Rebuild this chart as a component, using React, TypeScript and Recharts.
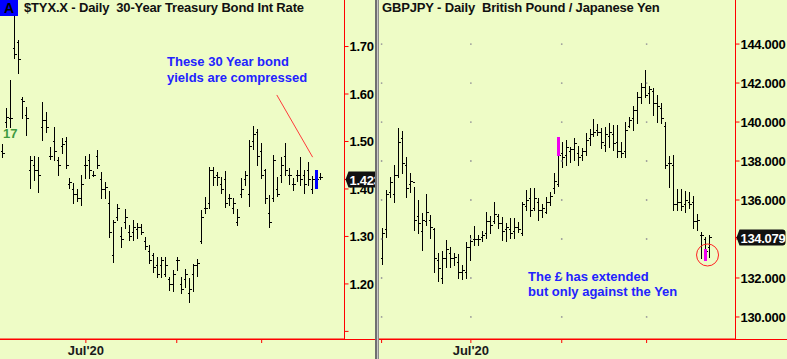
import React from "react";
import { Bar, ComposedChart, ReferenceDot, ReferenceLine, XAxis, YAxis } from "recharts";

const BG = "#EEFCC6";
const AXIS_RED = "#FF0000";
const FONT = '"Liberation Sans", Arial, sans-serif';

// $TYX.X daily bars
const tyxHigh = [
  1.495, 1.571, 1.629, 1.766, 1.714, 1.594, 1.573, 1.469, 1.469, 1.467,
  1.583, 1.562, 1.488, 1.531, 1.467, 1.507, 1.509, 1.423, 1.413, 1.4,
  1.429, 1.469, 1.474, 1.438, 1.482, 1.436, 1.415, 1.396, 1.335, 1.368,
  1.32, 1.358, 1.324, 1.335, 1.328, 1.326, 1.299, 1.282, 1.265, 1.257,
  1.257, 1.257, 1.215, 1.229, 1.257, 1.215, 1.232, 1.213, 1.242, 1.253,
  1.356, 1.383, 1.446, 1.446, 1.436, 1.425, 1.438, 1.389, 1.381, 1.358,
  1.423, 1.438, 1.503, 1.533, 1.526, 1.497, 1.442, 1.387, 1.472, 1.425,
  1.467, 1.497, 1.444, 1.423, 1.44, 1.467, 1.44, 1.457, 1.427, 1.44,
  1.434,
];
const tyxLow = [
  1.467, 1.531, 1.531, 1.676, 1.644, 1.549, 1.514, 1.402, 1.419, 1.394,
  1.503, 1.52, 1.463, 1.461, 1.429, 1.476, 1.444, 1.402, 1.371, 1.375,
  1.366, 1.423, 1.423, 1.427, 1.444, 1.381, 1.381, 1.299, 1.246, 1.335,
  1.278, 1.318, 1.293, 1.293, 1.297, 1.305, 1.274, 1.244, 1.225, 1.215,
  1.215, 1.217, 1.187, 1.185, 1.229, 1.181, 1.194, 1.162, 1.185, 1.217,
  1.286, 1.349, 1.36, 1.408, 1.408, 1.392, 1.362, 1.366, 1.349, 1.324,
  1.383, 1.408, 1.364, 1.484, 1.451, 1.423, 1.371, 1.32, 1.375, 1.385,
  1.415, 1.429, 1.411, 1.398, 1.417, 1.408, 1.392, 1.408, 1.392, 1.402,
  1.421,
];
const tyxOpen = [
  1.48, 1.54, 1.55, 1.697, 1.71, 1.59, 1.555, 1.44, 1.45, 1.44,
  1.53, 1.545, 1.47, 1.5, 1.46, 1.49, 1.5, 1.41, 1.4, 1.39,
  1.38, 1.45, 1.46, 1.43, 1.47, 1.42, 1.4, 1.37, 1.26, 1.34,
  1.3, 1.33, 1.31, 1.31, 1.315, 1.32, 1.29, 1.27, 1.26, 1.24,
  1.24, 1.22, 1.21, 1.2, 1.25, 1.2, 1.21, 1.18, 1.22, 1.24,
  1.29, 1.36, 1.37, 1.44, 1.43, 1.41, 1.42, 1.38, 1.36, 1.33,
  1.39, 1.42, 1.39, 1.5, 1.52, 1.48, 1.44, 1.35, 1.38, 1.4,
  1.43, 1.47, 1.43, 1.41, 1.43, 1.43, 1.43, 1.44, 1.4, 1.42,
  1.425,
];
const tyxClose = [
  1.475, 1.551, 1.55, 1.685, 1.674, 1.585, 1.55, 1.46, 1.44, 1.43,
  1.545, 1.53, 1.47, 1.48, 1.45, 1.495, 1.45, 1.415, 1.39, 1.38,
  1.41, 1.45, 1.44, 1.43, 1.45, 1.4, 1.405, 1.31, 1.33, 1.36,
  1.295, 1.34, 1.3, 1.32, 1.32, 1.31, 1.28, 1.25, 1.235, 1.22,
  1.25, 1.24, 1.2, 1.22, 1.25, 1.19, 1.22, 1.19, 1.24, 1.245,
  1.34, 1.36, 1.44, 1.425, 1.425, 1.4, 1.37, 1.38, 1.37, 1.34,
  1.4, 1.43, 1.49, 1.515, 1.47, 1.43, 1.38, 1.33, 1.46, 1.39,
  1.45, 1.44, 1.43, 1.41, 1.43, 1.42, 1.41, 1.42, 1.42, 1.42,
  1.425,
];
const tyxBlueBar = 79;
const tyxLast = "1.423";
const tyxLastValue = 1.42;
const tyxTicks = [1.1, 1.2, 1.3, 1.4, 1.5, 1.6, 1.7];
const tyxTickLabels = ["", "1.20", "1.30", "1.40", "1.50", "1.60", "1.70"];
const tyxMonthTicks = [21.06, 43.88, 65.2];
const tyxMonthLabels = ["Jul'20", "", ""];
const tyxArrow = [
  { x: 69, y: 1.598 },
  { x: 78, y: 1.467 },
];

// GBPJPY daily bars
const gbpHigh = [
  134.56, 136.51, 137.18, 137.79, 139.69, 139.54, 138.21, 137.38, 136.67, 136.0,
  135.33, 136.31, 135.23, 134.56, 133.28, 133.38, 133.95, 133.59, 133.28, 133.23,
  132.67, 133.85, 134.21, 134.67, 134.21, 134.41, 135.38, 135.18, 135.9, 135.28,
  135.13, 134.82, 135.08, 135.08, 134.87, 135.9, 136.51, 136.62, 136.62, 136.1,
  135.79, 136.15, 136.41, 137.38, 139.23, 138.97, 139.08, 138.72, 139.18, 138.77,
  138.67, 139.44, 139.64, 140.15, 139.9, 139.69, 139.74, 139.95, 139.85, 139.85,
  138.97, 140.0, 140.26, 140.82, 141.54, 142.0, 142.67, 141.85, 141.74, 141.38,
  140.97, 140.0, 138.26, 138.31, 136.56, 136.56, 136.46, 136.41, 136.21, 135.28,
  134.36, 134.1, 134.21,
];
const gbpLow = [
  132.72, 134.1, 136.15, 135.9, 137.18, 137.38, 136.15, 136.41, 134.46, 134.31,
  133.44, 134.72, 134.05, 132.31, 131.85, 131.74, 132.56, 132.56, 132.67, 132.0,
  131.95, 132.0, 132.92, 133.69, 133.69, 133.9, 134.05, 134.31, 134.82, 134.56,
  133.95, 133.9, 134.05, 134.05, 134.36, 134.21, 135.49, 135.18, 135.49, 134.97,
  135.13, 135.33, 135.74, 136.36, 136.72, 137.69, 137.79, 137.95, 138.05, 137.79,
  138.05, 138.31, 138.82, 139.28, 139.33, 138.67, 138.51, 138.72, 138.56, 138.21,
  138.21, 138.21, 139.74, 139.59, 139.95, 140.97, 141.28, 140.97, 140.36, 140.0,
  139.95, 137.64, 136.67, 135.49, 135.49, 135.49, 135.38, 135.59, 134.56, 134.46,
  133.03, 132.92, 133.08,
];
const gbpOpen = [
  133.0, 134.5, 136.4, 136.3, 137.3, 139.2, 137.8, 136.8, 136.9, 135.2,
  134.4, 134.9, 135.0, 134.5, 132.9, 132.0, 133.0, 133.3, 133.0, 132.8,
  132.3, 132.3, 133.6, 134.0, 134.0, 134.1, 134.3, 134.9, 134.9, 135.2,
  134.8, 134.5, 134.5, 134.4, 134.6, 134.3, 135.7, 136.1, 135.6, 135.9,
  135.5, 135.4, 135.9, 136.6, 136.8, 138.4, 138.3, 138.5, 138.6, 138.4,
  138.3, 138.5, 139.2, 139.4, 139.6, 139.5, 138.8, 139.3, 139.4, 139.0,
  138.5, 138.5, 139.8, 140.2, 140.6, 141.3, 141.8, 141.5, 141.6, 141.0,
  140.7, 139.8, 137.9, 137.8, 135.8, 135.9, 135.8, 135.9, 135.9, 134.9,
  134.2, 134.0, 133.6,
];
const gbpClose = [
  134.3, 136.3, 136.9, 137.3, 139.0, 137.9, 136.6, 137.0, 135.0, 134.8,
  135.0, 135.4, 134.6, 133.0, 132.5, 133.0, 133.5, 133.0, 133.1, 132.3,
  132.4, 133.6, 133.9, 134.0, 134.0, 134.2, 134.9, 134.7, 135.3, 134.8,
  134.4, 134.6, 134.3, 134.6, 134.5, 135.8, 136.0, 135.5, 136.1, 135.5,
  135.6, 135.9, 136.2, 137.0, 138.3, 138.2, 138.7, 138.6, 138.9, 138.2,
  138.5, 139.1, 139.4, 139.5, 139.5, 139.0, 139.4, 139.5, 138.9, 138.5,
  138.4, 139.6, 140.1, 140.6, 141.3, 141.8, 141.4, 141.7, 141.0, 140.8,
  140.2, 137.8, 137.9, 135.8, 135.9, 135.7, 136.0, 135.8, 134.9, 135.0,
  134.2, 133.4, 134.08,
];
const gbpMagentaIdx = [44, 81];
const gbpMagentaTop = [139.23, 133.49];
const gbpMagentaBottom = [138.31, 132.92];
const gbpLast = "134.079";
const gbpLastValue = 134.079;
const gbpTicks = [130, 132, 134, 136, 138, 140, 142, 144];
const gbpTickLabels = ["130.000", "132.000", "134.000", "136.000", "138.000", "140.000", "142.000", "144.000"];
const gbpMonthTicks = [-0.1, 22.25, 45, 66.25];
const gbpMonthLabels = ["", "Jul'20", "", ""];
const gbpCircle = { x: 81.5, y: 133.18 };

type Row = { i: number; range: [number, number]; open: number; close: number; mark?: [number, number]; markColor?: string };

function buildRows(high: number[], low: number[], open: number[], close: number[]): Row[] {
  return high.map((h, i) => ({ i, range: [low[i], h], open: open[i], close: close[i] }));
}

const tyxRows = buildRows(tyxHigh, tyxLow, tyxOpen, tyxClose);
tyxRows[tyxBlueBar].mark = [tyxLow[tyxBlueBar], tyxHigh[tyxBlueBar]];
tyxRows[tyxBlueBar].markColor = "#0000FF";

const gbpRows = buildRows(gbpHigh, gbpLow, gbpOpen, gbpClose);
gbpMagentaIdx.forEach((idx, k) => {
  gbpRows[idx].mark = [gbpMagentaBottom[k], gbpMagentaTop[k]];
  gbpRows[idx].markColor = "#F000F0";
});

function OhlcBar(props: any) {
  const { x, y, width, height, payload } = props;
  if (x == null || y == null || height == null) return null;
  const top = Math.min(y, y + height);
  const h = Math.abs(height);
  const [lo, hi] = payload.range;
  const toY = (v: number) => Math.round(top + ((hi - v) / (hi - lo || 1)) * h) + 0.5;
  const cx = Math.round(x + width / 2) + 0.5;
  const oy = toY(payload.open);
  const cy = toY(payload.close);
  let mark = null;
  if (payload.mark) {
    const my1 = toY(payload.mark[1]);
    const my2 = toY(payload.mark[0]);
    mark = <rect x={cx - 1.5} y={my1 - 0.5} width={3} height={my2 - my1 + 1} fill={payload.markColor} />;
  }
  return (
    <g shapeRendering="crispEdges">
      <line x1={cx} x2={cx} y1={Math.round(top)} y2={Math.round(top + h) + 1} stroke="#000" strokeWidth={1} />
      <line x1={cx - 2} x2={cx} y1={oy} y2={oy} stroke="#000" strokeWidth={1} />
      <line x1={cx} x2={cx + 2} y1={cy} y2={cy} stroke="#000" strokeWidth={1} />
      {mark}
    </g>
  );
}

// y-axis tick: plain label, or the black last-price tag (listed last so it sits on top)
function makeAxisTick(ticks: number[], labels: string[], lastValue: number, lastText: string, boxWidth: number) {
  return function AxisTick(props: any) {
    const { x, y, payload } = props;
    const v = payload.value;
    if (v === lastValue) {
      const ax = x - 4;
      const cy = Math.round(y) + 0.5;
      const w = boxWidth;
      const d = `M${ax},${cy} L${ax + 3},${cy - 8} H${ax + w - 3} Q${ax + w},${cy - 8} ${ax + w},${cy - 5} V${cy + 5} Q${ax + w},${cy + 8} ${ax + w - 3},${cy + 8} H${ax + 3} Z`;
      return (
        <g>
          <path d={d} fill="#111" />
          <text x={ax + 4} y={cy + 5} fill="#fff" fontFamily={FONT} fontWeight="bold" fontSize={13} letterSpacing={-0.3}>
            {lastText}
          </text>
        </g>
      );
    }
    const label = labels[ticks.indexOf(v)] ?? "";
    return (
      <text x={x} y={y} dy="0.36em" fill="#000" fontFamily={FONT} fontWeight="bold" fontSize={13} letterSpacing={-0.3}>
        {label}
      </text>
    );
  };
}

const TyxTick = makeAxisTick(tyxTicks, tyxTickLabels, tyxLastValue, tyxLast, 40);
const GbpTick = makeAxisTick(gbpTicks, gbpTickLabels, gbpLastValue, gbpLast, 49);

const monthTickStyle = { fontSize: 13, fontWeight: "bold", fill: "#1a1a1a", fontFamily: FONT } as const;
const redLine = { stroke: AXIS_RED, strokeWidth: 1 } as const;

function TyxChart() {
  return (
    <ComposedChart width={375} height={359} data={tyxRows} margin={{ top: 0, right: 0.5, bottom: 0, left: 0 }}>
      <XAxis
        dataKey="i"
        type="number"
        domain={[-0.5, 86]}
        ticks={tyxMonthTicks}
        interval={0}
        tickFormatter={(v: number) => tyxMonthLabels[tyxMonthTicks.indexOf(v)] ?? ""}
        height={20}
        tickSize={4}
        tickMargin={3}
        axisLine={redLine}
        tickLine={redLine}
        tick={monthTickStyle}
        allowDataOverflow
      />
      <YAxis
        orientation="right"
        type="number"
        domain={[1.084, 1.798]}
        ticks={[...tyxTicks, tyxLastValue]}
        interval={0}
        width={30}
        tickSize={4}
        tickMargin={1}
        axisLine={redLine}
        tickLine={redLine}
        tick={<TyxTick />}
        allowDataOverflow
      />
      <Bar dataKey="range" barSize={4} shape={<OhlcBar />} isAnimationActive={false} />
      <ReferenceLine segment={tyxArrow} stroke="#FF3B3B" strokeWidth={1} ifOverflow="visible" />
    </ComposedChart>
  );
}

function GbpChart() {
  const dots: { x: number; y: number }[] = [];
  gbpMonthTicks.forEach((x) => gbpTicks.forEach((y) => dots.push({ x, y })));
  return (
    <ComposedChart width={408} height={359} data={gbpRows} margin={{ top: 0, right: 0.5, bottom: 0, left: 0 }}>
      <XAxis
        dataKey="i"
        type="number"
        domain={[-0.75, 88.5]}
        ticks={gbpMonthTicks}
        interval={0}
        tickFormatter={(v: number) => gbpMonthLabels[gbpMonthTicks.indexOf(v)] ?? ""}
        height={20}
        tickSize={4}
        tickMargin={3}
        axisLine={redLine}
        tickLine={redLine}
        tick={monthTickStyle}
        allowDataOverflow
      />
      <YAxis
        orientation="right"
        type="number"
        domain={[128.87, 146.26]}
        ticks={[...gbpTicks, gbpLastValue]}
        interval={0}
        width={51}
        tickSize={4}
        tickMargin={1}
        axisLine={redLine}
        tickLine={redLine}
        tick={<GbpTick />}
        allowDataOverflow
      />
      {dots.map((d, k) => (
        <ReferenceDot key={k} x={d.x} y={d.y} r={0.9} fill="#9a9a9a" stroke="none" />
      ))}
      <Bar dataKey="range" barSize={4} shape={<OhlcBar />} isAnimationActive={false} />
      <ReferenceDot x={gbpCircle.x} y={gbpCircle.y} r={11} fill="none" stroke="#FF2020" strokeWidth={1} />
    </ComposedChart>
  );
}

const noteStyle: React.CSSProperties = {
  position: "absolute",
  color: "#2222FF",
  fontFamily: FONT,
  fontWeight: "bold",
  fontSize: 13,
  whiteSpace: "nowrap",
};

const titleStyle: React.CSSProperties = {
  position: "absolute",
  top: 0,
  color: "#111",
  fontFamily: FONT,
  fontWeight: "bold",
  fontSize: 13,
  lineHeight: "16px",
  letterSpacing: -0.15,
  whiteSpace: "pre",
};

export default function App() {
  return (
    <div style={{ position: "absolute", left: 0, top: 0, width: 787, height: 359, background: BG, overflow: "hidden" }}>
      <div style={{ position: "absolute", left: 0, top: 339, width: 787, height: 1, background: AXIS_RED }} />
      <div style={{ position: "absolute", left: 0, top: 0 }}>
        <TyxChart />
      </div>
      <div
        style={{
          position: "absolute",
          left: 375,
          top: 0,
          width: 1,
          height: 359,
          background: "#c8c8c8",
          borderLeft: "2px solid #6f6f6f",
          borderRight: "1px solid #8c8c8c",
        }}
      />
      <div style={{ position: "absolute", left: 379, top: 0 }}>
        <GbpChart />
      </div>

      <div
        style={{
          position: "absolute",
          left: 0,
          top: 0,
          width: 18,
          height: 16,
          background: "#0000FF",
          color: "#000",
          fontFamily: FONT,
          fontWeight: "bold",
          fontSize: 14,
          lineHeight: "16px",
          textAlign: "center",
        }}
      >
        A
      </div>
      <div style={{ ...titleStyle, left: 24 }}>{"$TYX.X - Daily  30-Year Treasury Bond Int Rate"}</div>
      <div style={{ ...titleStyle, left: 382 }}>{"GBPJPY - Daily  British Pound / Japanese Yen"}</div>

      <div style={{ ...noteStyle, left: 167, top: 54, lineHeight: "16px" }}>
        These 30 Year bond
        <br />
        yields are compressed
      </div>
      <div style={{ ...noteStyle, left: 528, top: 269, lineHeight: "15px" }}>
        The £ has extended
        <br />
        but only against the Yen
      </div>
      <div
        style={{
          position: "absolute",
          left: 3,
          top: 126,
          color: "#3F9B3F",
          fontFamily: FONT,
          fontWeight: "bold",
          fontSize: 13,
          lineHeight: "16px",
        }}
      >
        17
      </div>
    </div>
  );
}
